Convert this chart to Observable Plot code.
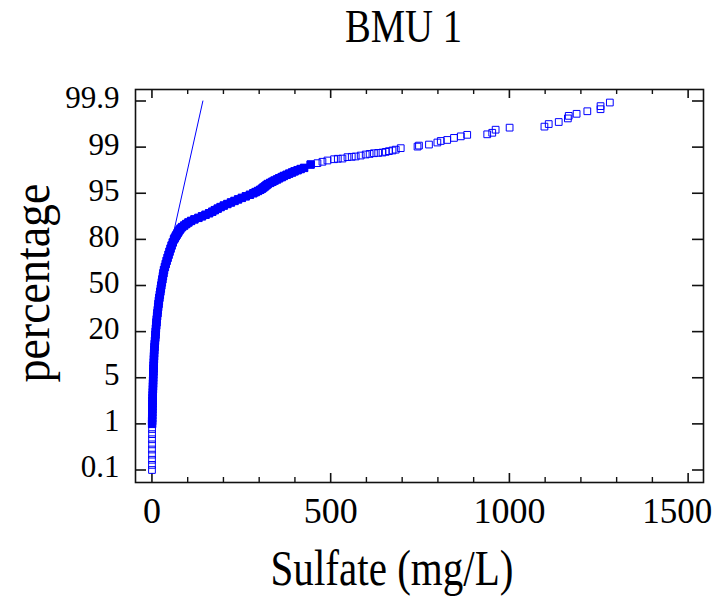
<!DOCTYPE html>
<html>
<head>
<meta charset="utf-8">
<script src="https://cdn.jsdelivr.net/npm/d3@7"></script>
<script src="https://cdn.jsdelivr.net/npm/@observablehq/plot@0.6"></script>
<style>
  html, body { margin: 0; padding: 0; background: #fff; }
  svg { display: block; }
</style>
</head>
<body>
<script>
// ---- Text ----
const title = "BMU 1";
const xLabel = "Sulfate (mg/L)";
const yLabel = "percentage";

// ---- Axis ticks ----
const yTicks = [0.1, 1, 5, 20, 50, 80, 95, 99, 99.9];
const xMajor = [0, 500, 1000, 1500];
const xMinor = [100, 200, 300, 400, 600, 700, 800, 900, 1100, 1200, 1300, 1400];

// ---- Cumulative percentage (probability plot) and sulfate values ----
const pct = [
  0.1, 0.2, 0.3, 0.4, 0.5, 0.6, 0.7, 0.8, 0.9,
  1, 1.25, 1.5, 1.75, 2, 2.25, 2.5, 2.75, 3, 3.25, 3.5, 3.75, 4, 4.25, 4.5, 4.75, 5,
  6, 7, 8, 9, 10, 11, 12, 13, 14, 15, 16, 17, 18, 19, 20,
  22, 24, 26, 28, 30, 32, 34, 36, 38, 40, 42, 44, 46, 48, 50,
  52, 54, 56, 58, 60, 62, 64, 66, 68, 70, 72, 74, 76, 78, 80,
  80.5, 81, 81.5, 82, 82.5, 83, 83.5, 84, 84.5, 85, 85.5, 86, 86.5, 87, 87.5,
  88, 88.5, 89, 89.5, 90, 90.5, 91, 91.5, 92, 92.5, 93, 93.5, 94, 94.5, 95,
  95.1, 95.2, 95.3, 95.4, 95.5, 95.6, 95.7, 95.8, 95.9, 96, 96.1, 96.2, 96.3, 96.4,
  96.5, 96.6, 96.7, 96.8, 96.9, 97, 97.1, 97.2,
  97.49, 97.61, 97.73, 97.84, 97.95, 97.99, 98.01, 98.13, 98.16, 98.19, 98.27, 98.36,
  98.41, 98.47, 98.5, 98.53, 98.59, 98.65, 98.71, 98.78, 98.91,
  99.01, 99.03, 99.05, 99.09, 99.12, 99.14, 99.18, 99.21, 99.24, 99.25, 99.28, 99.34,
  99.38, 99.4, 99.45, 99.49, 99.56, 99.61, 99.65, 99.7, 99.74, 99.8, 99.87
];
const sulfate = [
  0.1, 0.1, 0.2, 0.2, 0.2, 0.3, 0.3, 0.3, 0.4,
  0.5, 0.6, 0.7, 0.8, 1.0, 1.1, 1.3, 1.5, 1.7, 1.9, 2.1, 2.4, 2.7, 2.9, 3.1, 3.3, 3.5,
  3.7, 4.1, 4.4, 4.8, 5.2, 5.5, 5.8, 6.1, 6.5, 7.2, 7.9, 8.5, 9.2, 9.9, 10.6,
  11.1, 11.9, 12.7, 13.5, 14.4, 15.4, 16.4, 17.4, 18.4, 19.4, 20.8, 22.1, 23.5, 24.9, 26.2,
  27.7, 29.2, 30.7, 32.2, 33.8, 36.2, 38.6, 41.1, 43.8, 46.5, 49.2, 52.1, 55.0, 58.3, 61.8,
  64.0, 66.5, 69.0, 71.6, 74.1, 77.0, 79.9, 84.4, 90.3, 96.0, 102, 109.6, 118.8, 130, 140,
  149.9, 160, 168.8, 176, 184, 192, 201, 211, 221, 231, 241, 251.5, 262.7, 274, 283.7,
  290.1, 296.8, 303, 308, 312, 316.5, 320.4, 324.2, 330.9, 337, 343, 350, 356, 363,
  369, 376.8, 384, 392, 399, 407.5, 416, 425.7,
  444, 463, 477, 491, 509.5, 520, 533, 547, 559, 570, 584, 598,
  609, 621, 633, 645, 654, 663, 673, 682, 696,
  743, 747, 775, 798.5, 808, 826, 845, 864, 882, 938, 952, 961.5,
  1000.6, 1098, 1110, 1138, 1163.6, 1166, 1188, 1218, 1255, 1255, 1281
];

// ---- Reference (fitted) line segment ----
const fitPct = [80.9, 99.9];
const fitSulfate = [58, 142.5];

// ---- Build tables ----
const data = pct.map((p, i) => ({p, s: sulfate[i]}));
const fit = fitPct.map((p, i) => ({p, s: fitSulfate[i]}));

const W = 715, H = 598, mL = 135, mR = 12, mT = 89, mB = 116;
const pw = W - mL - mR, ph = H - mT - mB;
const blue = "#0000ff";
const ink = "#111";
const yBottom = 469.5, yStep = 46.125;
const lastX = xMajor[xMajor.length - 1];

const chart = Plot.plot({
  width: W, height: H,
  marginLeft: mL, marginRight: mR, marginTop: mT, marginBottom: mB,
  style: {fontFamily: "'Liberation Serif', 'Times New Roman', serif", background: "white", color: "black", overflow: "visible"},
  x: {type: "linear", domain: [-46, 1543], axis: null},
  y: {type: "linear", domain: yTicks, range: yTicks.map((_, i) => yBottom - i * yStep), axis: null},
  marks: [
    Plot.frame({stroke: ink, strokeWidth: 1.6}),
    // y ticks, inward on both sides
    Plot.tickY(yTicks, {y: d => d, insetRight: pw - 11, stroke: ink, strokeWidth: 1.6}),
    Plot.tickY(yTicks, {y: d => d, insetLeft: pw - 11, stroke: ink, strokeWidth: 1.6}),
    // x ticks, inward on both sides
    Plot.tickX(xMajor, {x: d => d, insetTop: ph - 9, stroke: ink, strokeWidth: 1.6}),
    Plot.tickX(xMajor, {x: d => d, insetBottom: ph - 9, stroke: ink, strokeWidth: 1.6}),
    Plot.tickX(xMinor, {x: d => d, insetTop: ph - 5, stroke: ink, strokeWidth: 1.4}),
    Plot.tickX(xMinor, {x: d => d, insetBottom: ph - 5, stroke: ink, strokeWidth: 1.4}),
    // tick labels
    Plot.text(yTicks, {y: d => d, text: d => String(d), frameAnchor: "left", textAnchor: "end", dx: -16, dy: -2.5, fontSize: 31, fill: "black"}),
    Plot.text(xMajor.filter(d => d !== lastX), {x: d => d, text: d => String(d), frameAnchor: "bottom", textAnchor: "middle", lineAnchor: "top", dy: 15, fontSize: 36, fill: "black"}),
    Plot.text([lastX], {x: d => d, text: d => String(d), frameAnchor: "bottom", textAnchor: "end", lineAnchor: "top", dx: 24, dy: 15, fontSize: 36, fill: "black"}),
    // fitted line
    Plot.line(fit, {x: "s", y: "p", stroke: blue, strokeWidth: 1}),
    // data: dense part (overlapping squares form a solid band)
    Plot.dot(data.filter(d => d.p >= 1 && d.p <= 97.5), {x: "s", y: "p", symbol: "square", r: 4.2, fill: blue, stroke: blue, strokeWidth: 1}),
    Plot.dot(data, {x: "s", y: "p", symbol: "square", r: 3.8, fill: "none", stroke: blue, strokeWidth: 1}),
    // titles
    Plot.text([title], {text: d => d, frameAnchor: "top", textAnchor: "middle", lineAnchor: "bottom", dx: 403 - (mL + pw / 2), dy: 41 - mT, fontSize: 47, fill: "black"}),
    Plot.text([xLabel], {text: d => d, frameAnchor: "bottom", textAnchor: "middle", lineAnchor: "bottom", dx: 391.5 - (mL + pw / 2), dy: 584 - (H - mB), fontSize: 50, fill: "black"}),
    Plot.text([yLabel], {text: d => d, frameAnchor: "left", textAnchor: "middle", lineAnchor: "bottom", rotate: -90, dx: 48 - mL, dy: 282.5 - (mT + ph / 2), fontSize: 50, fill: "black"})
  ]
});

// condensed lettering like the original
const lengths = {[title]: 117, [xLabel]: 243, [yLabel]: 199, [String(lastX)]: 70};
d3.select(chart).selectAll("text").each(function () {
  const L = lengths[this.textContent];
  if (L) {
    this.setAttribute("textLength", L);
    this.setAttribute("lengthAdjust", "spacingAndGlyphs");
  }
});

document.body.appendChild(chart);
</script>
</body>
</html>
